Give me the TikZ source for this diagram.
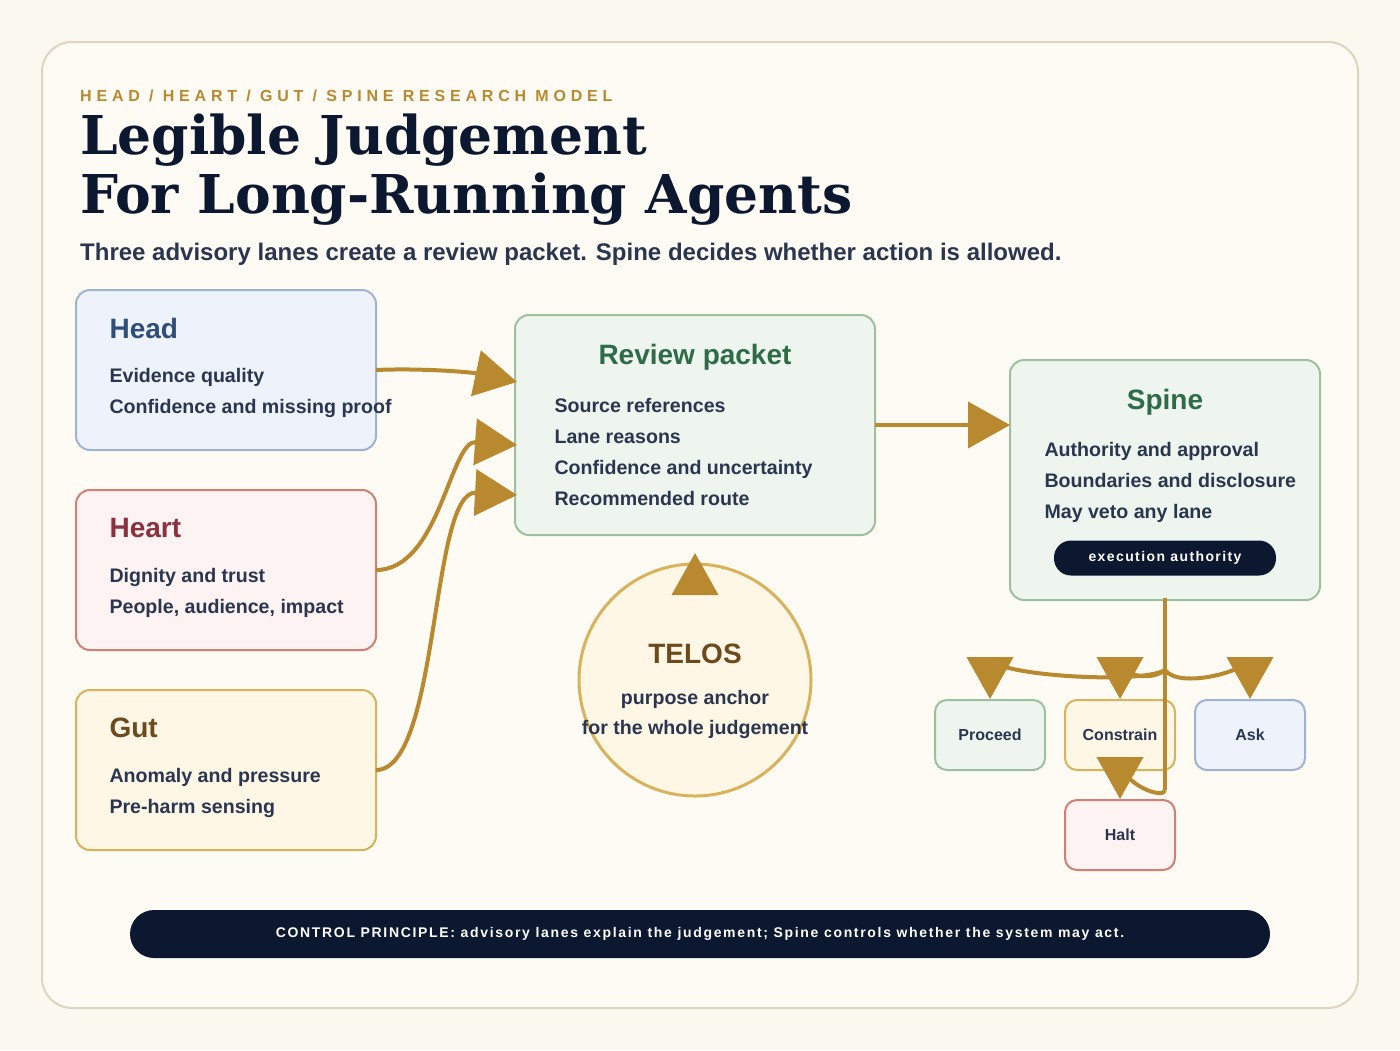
\documentclass[tikz,border=0pt]{standalone}
\usepackage{fontspec}
\setmainfont{Liberation Sans}
\newfontfamily\ttl{DejaVu Serif}
\usetikzlibrary{arrows.meta}
\definecolor{bg}{HTML}{FBF8F0}
\definecolor{panel}{HTML}{FDFBF4}
\definecolor{frame}{HTML}{DDD5BF}
\definecolor{gold}{HTML}{B8892F}
\definecolor{navy}{HTML}{0C1830}
\definecolor{ink}{HTML}{2A3550}
\definecolor{headF}{HTML}{EEF3FB}\definecolor{headS}{HTML}{9FB3D3}\definecolor{headT}{HTML}{2F4E7A}
\definecolor{heartF}{HTML}{FDF3F2}\definecolor{heartS}{HTML}{D08077}\definecolor{heartT}{HTML}{8C3040}
\definecolor{gutF}{HTML}{FEF7E6}\definecolor{gutS}{HTML}{D9B35C}\definecolor{gutT}{HTML}{6B4A1E}
\definecolor{grF}{HTML}{EEF5EE}\definecolor{grS}{HTML}{9DC09F}\definecolor{grT}{HTML}{2E6B48}
\begin{document}
\begin{tikzpicture}[x=1pt,y=-1pt,
 box/.style={draw=#1, line width=2pt, rounded corners=14pt},
 ttlt/.style={anchor=west,font=\bfseries\fontsize{28}{32}\selectfont},
 body/.style={anchor=north west,align=left,text=ink,font=\bfseries\fontsize{19.6}{31}\selectfont},
 out/.style={draw=#1, line width=2pt, rounded corners=12pt, minimum width=110pt, minimum height=70pt, text=ink, font=\bfseries\fontsize{16}{18}\selectfont},
 arr/.style={draw=gold, line width=4pt, -{Triangle[width=46pt,length=42pt]}}]
\fill[bg] (0,0) rectangle (1400,1050);
\draw[frame, fill=panel, line width=2pt, rounded corners=30pt] (42,42) rectangle (1358,1008);
\node[anchor=west,inner sep=0pt,text=gold,font=\bfseries\fontsize{16}{18}\selectfont] (kick) at (80,96) {\addfontfeature{LetterSpace=30}HEAD / HEART / GUT / SPINE RESEARCH MODEL};
\node[anchor=north west,align=left,inner sep=0pt,text=navy,font=\ttl\bfseries\fontsize{53.5}{59}\selectfont] (title) at (80,114) {Legible Judgement\\For Long-Running Agents};
\node[anchor=west,inner sep=0pt,text=ink,font=\bfseries\fontsize{24}{26}\selectfont] (sub) at (80,254) {Three advisory lanes create a review packet. Spine decides whether action is allowed.};
% lanes
\draw[box=headS, fill=headF] (76,290) rectangle (376,450);
\node[ttlt,text=headT] (headt) at (106,328) {Head};
\node[body] (headb) at (106,365) {Evidence quality\\Confidence and missing proof};
\coordinate (headR) at (376,370);
\draw[box=heartS, fill=heartF] (76,490) rectangle (376,650);
\node[ttlt,text=heartT] (heartt) at (106,528) {Heart};
\node[body] (heartb) at (106,565) {Dignity and trust\\People, audience, impact};
\coordinate (heartR) at (376,570);
\draw[box=gutS, fill=gutF] (76,690) rectangle (376,850);
\node[ttlt,text=gutT] (gutt) at (106,728) {Gut};
\node[body] (gutb) at (106,765) {Anomaly and pressure\\Pre-harm sensing};
\coordinate (gutR) at (376,770);
% review
\draw[box=grS, fill=grF] (515,315) rectangle (875,535);
\node[font=\bfseries\fontsize{28}{32}\selectfont,text=grT] (revt) at (695,357) {Review packet};
\node[body] (revb) at (551,395) {Source references\\Lane reasons\\Confidence and uncertainty\\Recommended route};
\coordinate (revA) at (517,382); \coordinate (revB) at (517,445); \coordinate (revC) at (517,495);
\coordinate (revR) at (875,425); \coordinate (revBot) at (695,553);
% spine
\draw[box=grS, fill=grF] (1010,360) rectangle (1320,600);
\node[font=\bfseries\fontsize{28}{32}\selectfont,text=grT] (spt) at (1165,402) {Spine};
\node[body] (spb) at (1041,439) {Authority and approval\\Boundaries and disclosure\\May veto any lane};
\node[fill=navy,text=white,rounded corners=17pt,minimum width=222pt,minimum height=35pt,font=\bfseries\fontsize{14}{16}\selectfont] (exe) at (1165,558) {\addfontfeature{LetterSpace=10}execution authority};
\coordinate (spL) at (1010,425); \coordinate (spB) at (1165,598);
% telos
\node[circle,draw=gutS,fill=gutF,line width=3pt,minimum size=232pt] (telos) at (695,680) {};
\node[text=gutT,font=\bfseries\fontsize{28}{32}\selectfont] (telt) at (695,654) {TELOS};
\node[text=ink,align=center,font=\bfseries\fontsize{19.6}{30}\selectfont] (telb) at (695,714) {purpose anchor\\for the whole judgement};
% outcomes
\node[out=grS, fill=grF] (proc) at (990,735) {Proceed};
\node[out=gutS, fill=gutF] (cons) at (1120,735) {Constrain};
\node[out=headS, fill=headF] (ask) at (1250,735) {Ask};
\node[out=heartS, fill=heartF] (halt) at (1120,835) {Halt};
\coordinate (hub) at (1165,670); \coordinate (low) at (1165,790);
% arrows
\draw[arr] (headR) .. controls (420,368) and (470,372) .. (revA);
\draw[arr] (heartR) .. controls (440,570) and (450,440) .. (revB);
\draw[arr] (gutR) .. controls (440,770) and (430,490) .. (revC);
\draw[arr] (revR) -- (spL);
\draw[arr] (telos.north) -- (revBot);
\draw[draw=gold,line width=4pt] (spB) -- (low);
\draw[arr] (hub) .. controls (1140,685) and (990,675) .. (proc.north);
\draw[arr] (hub) .. controls (1150,682) and (1120,676) .. (cons.north);
\draw[arr] (hub) .. controls (1180,690) and (1250,670) .. (ask.north);
\draw[arr] (low) .. controls (1165,800) and (1120,785) .. (halt.north);
% banner
\node[fill=navy,text=white,rounded corners=24pt,minimum width=1140pt,minimum height=48pt,font=\bfseries\fontsize{14}{16}\selectfont] (ban) at (700,934) {\addfontfeature{LetterSpace=12}CONTROL PRINCIPLE: advisory lanes explain the judgement; Spine controls whether the system may act.};
\end{tikzpicture}
\end{document}
